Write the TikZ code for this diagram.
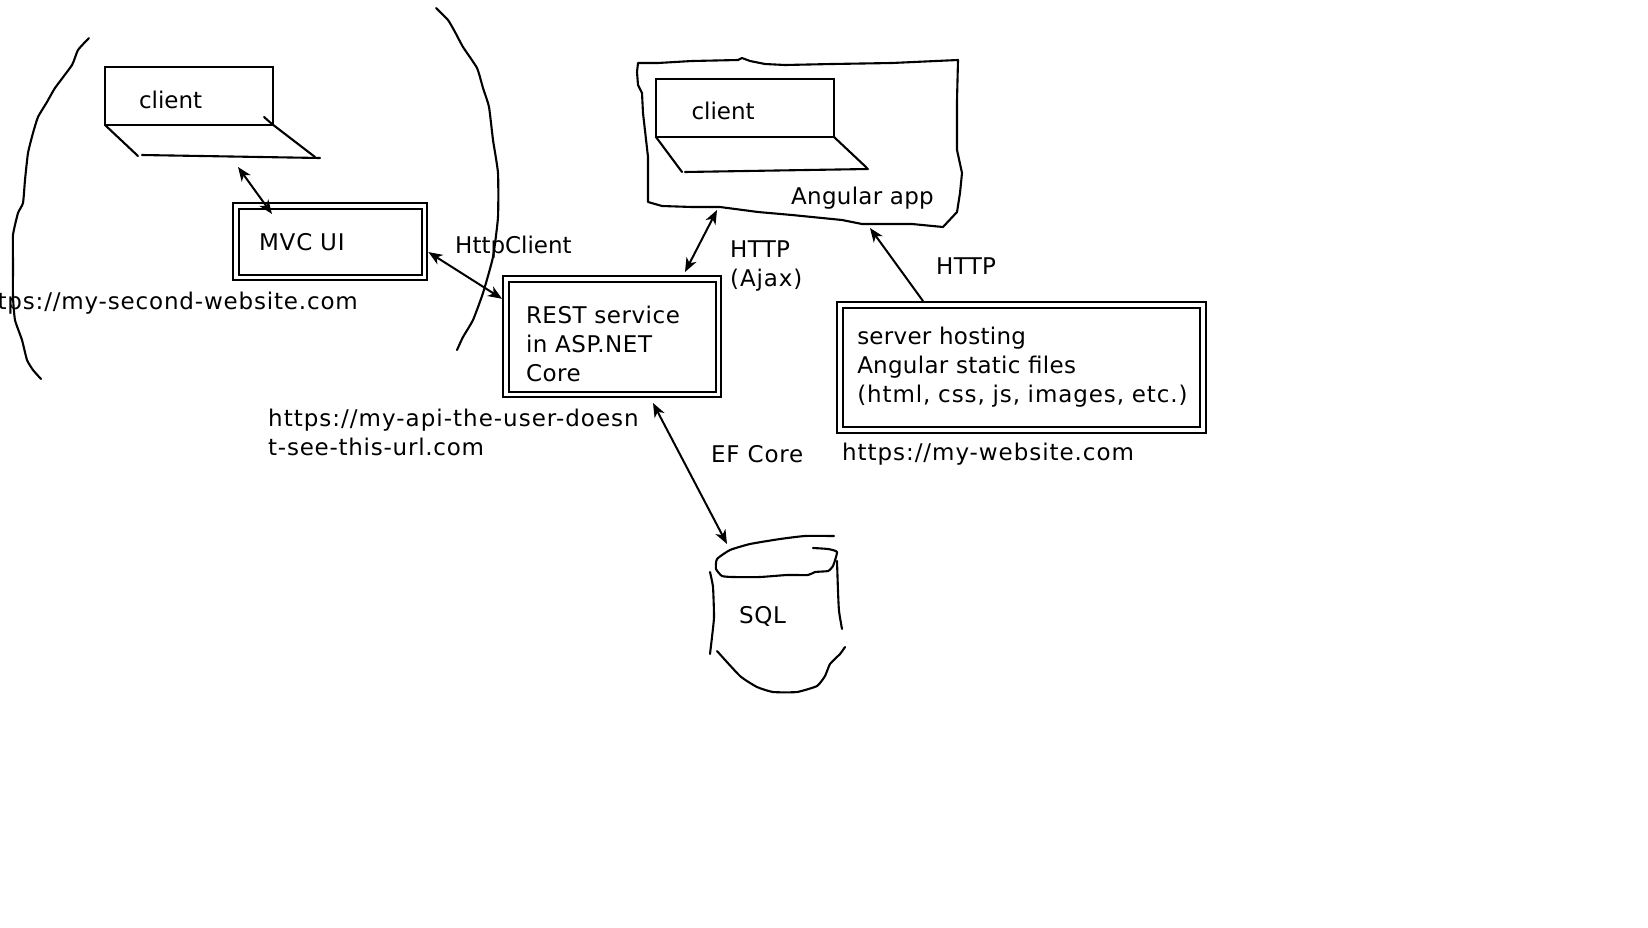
\documentclass[tikz,border=0pt]{standalone}
\usepackage{fontspec}
\setmainfont{DejaVu Sans}
\usetikzlibrary{arrows.meta}
\newcommand{\track}[2]{{\addfontfeature{LetterSpace=#1}#2}}
\begin{document}
\begin{tikzpicture}[
    x=1pt, y=-1pt,
    >={Stealth[length=14pt, width=11pt, inset=4pt]},
    every node/.style={font=\fontsize{23}{29}\selectfont},
    sketch/.style={line width=2.1pt, line join=round, line cap=round},
    arrow/.style={->, line width=2pt},
    biarrow/.style={<->, line width=2pt},
    screen/.style={draw, line width=2.1pt, outer sep=0pt, inner ysep=0pt, inner xsep=34pt, text height=24pt, text depth=0pt, align=left},
    service/.style={draw, double, line width=2.1pt, double distance=3.6pt, outer sep=3.9pt, inner ysep=0pt, inner xsep=20pt, align=left},
    label/.style={anchor=west, align=left, inner sep=0pt}
]
\useasboundingbox (0,0) rectangle (1648,927);

% Left group outline
\draw[sketch] plot[smooth, tension=0.3] coordinates {(89,38) (78,50) (72,65) (55,88) (47,102) (38,117) (33,133) (28,153) (25,180) (23,203) (18,213) (13,235) (13,263) (13,297) (15,320) (22,340) (27,360) (33,370) (41,379)};
\draw[sketch] plot[smooth, tension=0.3] coordinates {(436,8) (448,20) (455,32) (463,47) (477,68) (483,88) (489,107) (493,140) (498,173) (498,217) (493,257) (483,293) (473,320) (463,337) (457,350)};

% Left client
\node[screen, minimum width=168pt, minimum height=58pt, text width=100pt] (clientA) at (189,96) {client};
\draw[sketch] (clientA.south west) -- (138,156);
\draw[sketch] (142,155) -- (320,158);
\draw[sketch] (264,117) -- (272,124) -- (315,157);

% Angular app outline
\draw[sketch] plot[sharp cycle] coordinates {(638,63) (637,72) (638,85) (642,93) (643,113) (648,157) (648,202) (662,206) (692,207) (720,207) (758,212) (792,215) (842,220) (862,224) (912,224) (943,227) (957,212) (960,193) (962,173) (957,150) (957,100) (958,60) (892,63) (832,64) (785,65) (765,64) (750,61) (742,58) (738,60) (692,61) (658,63)};

% Right client
\node[screen, minimum width=178pt, minimum height=58pt, text width=107pt, inner xsep=35.5pt, text height=22pt] (clientB) at (745,108) {client};
\draw[sketch] (clientB.south west) -- (682,172);
\draw[sketch] (685,172) -- (868,169);
\draw[sketch] (clientB.south east) -- (867,168);

% Services
\node[service, minimum width=188.5pt, minimum height=71.5pt, text width=142.5pt, inner xsep=23pt] (mvc) at (330.25,241.75) {\track{3.8}{MVC UI}};
\node[service, minimum width=212.5pt, minimum height=115.5pt, text width=172.5pt] (rest) at (612.25,336.75) {\track{2.3}{\rule{0pt}{31pt}REST service}\\\track{2.3}{in ASP.NET}\\\track{2.3}{Core}};
\node[service, minimum width=362.5pt, minimum height=125pt, text width=328.5pt, inner xsep=17pt] (server) at (1021.5,367.5) {\track{1.2}{server hosting}\\\track{1.2}{Angular static files}\\\track{4}{(html, css, js, images, etc.)}};

% Labels
\node[label] (angularLabel) at (791,198) {\track{1.2}{Angular app}};
\node[label] (httpClientLabel) at (455,247) {HttpClient};
\node[label] (ajaxLabel) at (730,266) {\track{1.5}{HTTP}\\\track{3.8}{(Ajax)}};
\node[label] (httpLabel) at (936,266) {\track{1.5}{HTTP}};
\node[label] (efLabel) at (711,454) {\track{3.2}{EF Core}};
\node[label, anchor=east] (secondUrl) at (358,303) {\track{3.6}{tps://my-second-website.com}};
\node[label] (apiUrl) at (268,432.5) {\track{4.4}{https://my-api-the-user-doesn}\\\track{3.3}{t-see-this-url.com}};
\node[label] (siteUrl) at (842,454) {\track{4.1}{https://my-website.com}};
\node[label] (sqlLabel) at (739,616) {\track{2.5}{SQL}};

% Database
\draw[sketch] plot[smooth, tension=0.3] coordinates {(834,536) (805,536) (780,539) (750,544) (730,550) (717,559) (716,569) (722,576) (733,577) (760,577) (787,575) (808,575) (815,572) (828,571) (833,566) (837,552) (828,549) (813,548)};
\draw[sketch] plot[smooth, tension=0.3] coordinates {(710,572) (713,587) (714,617) (712,637) (710,654)};
\draw[sketch] plot[smooth, tension=0.3] coordinates {(837,561) (838,591) (839,611) (842,629)};
\draw[sketch] plot[smooth, tension=0.3] coordinates {(717,651) (740,676) (757,687) (773,692) (797,692) (817,686) (825,676) (830,664) (840,654) (845,647)};

% Arrow ends that stop short of a shape
\coordinate (laptopEnd) at (238,167);
\coordinate (mvcEnd) at (272,214);
\coordinate (restTop) at (685,272);
\coordinate (appBottom) at (717,210);
\coordinate (appBottomB) at (870,228);
\coordinate (restBottom) at (653,403);
\coordinate (sqlTop) at (727,544);

% Connections
\draw[biarrow] (laptopEnd) -- (mvcEnd);
\draw[biarrow] (mvc.-6) -- (rest.161);
\draw[biarrow] (restTop) -- (appBottom);
\draw[arrow] (server.146) -- (appBottomB);
\draw[biarrow] (restBottom) -- (sqlTop);

\end{tikzpicture}
\end{document}
